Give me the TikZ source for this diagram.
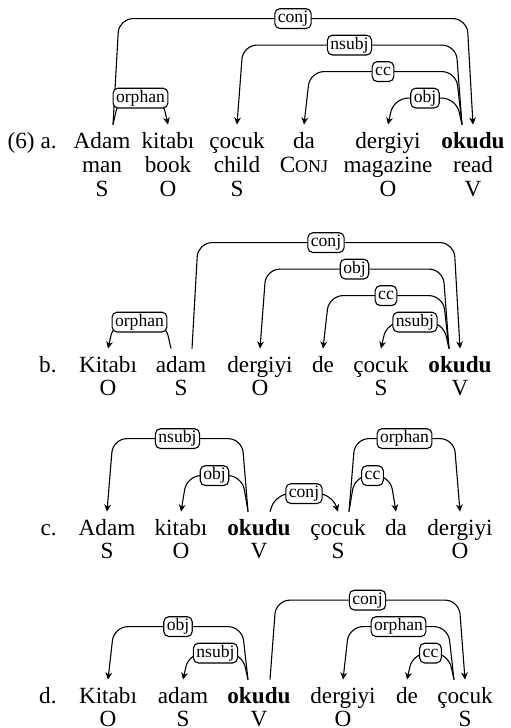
\documentclass[tikz,border=0pt]{standalone}
\usepackage{fontspec}
\setmainfont{Liberation Serif}
\usetikzlibrary{arrows.meta,calc}

\begin{document}
\begin{tikzpicture}[
        x=0.5pt, y=-0.5pt,
        word/.style={
            anchor=base,
            inner sep=0pt,
            text height=11.5pt,
            font=\fontsize{11.6}{14}\selectfont
        },
        lbl/.style={
            draw,
            fill=white,
            rounded corners=2.5pt,
            inner xsep=1.5pt,
            inner ysep=1pt,
            text height=6pt,
            text depth=1.9pt,
            font=\fontsize{8.8}{10}\selectfont
        },
        deparc/.style={
            line width=0.55pt,
            rounded corners=7pt,
            -{Stealth[length=3.6pt,width=3.4pt]},
            to path={let \p1=(\tikztostart), \p2=(\tikztotarget),
                \p3=($(\p1)!3pt!(\p2)$), \p4=($(\p2)!3pt!(\p1)$) in
                -- (\x3,\y1+#1) -- (\x4,\y1+#1) \tikztonodes -- (\p2)}
        }
    ]
        \useasboundingbox (0,0) rectangle (510,728);

        % (6a)
        \node[word,anchor=base east] (exA) at (57,148) {(6) a.};
        \foreach \n/\x/\t in {adamA/102/Adam, kitabiA/168/kitabı, cocukA/237/çocuk,
                daA/304/da, dergiyiA/388/dergiyi, okuduA/473/\textbf{okudu}}
            \node[word] (\n) at (\x,148) {\t};
        \foreach \n/\x/\t in {manA/102/man, bookA/168/book, childA/237/child,
                cnjA/304/C{\fontsize{9}{10}\selectfont ONJ}, magazineA/388/magazine, readA/473/read}
            \node[word] (\n) at (\x,172) {\t};
        \foreach \n/\x/\t in {roleA1/102/S, roleA2/168/O, roleA3/237/S, roleA5/388/O, roleA6/473/V}
            \node[word] (\n) at (\x,196) {\t};

        \draw[deparc=53pt] ([xshift=5.5pt]adamA.north) to node[lbl]{conj} (okuduA.north);
        \draw[deparc=13.25pt] ([xshift=5.5pt]adamA.north) to node[lbl]{orphan} (kitabiA.north);
        \draw[deparc=39.75pt] ([xshift=-5.5pt]okuduA.north) to node[lbl]{nsubj} (cocukA.north);
        \draw[deparc=26.5pt] ([xshift=-5.5pt]okuduA.north) to node[lbl]{cc} (daA.north);
        \draw[deparc=13.25pt] ([xshift=-5.5pt]okuduA.north) to node[lbl]{obj} (dergiyiA.north);

        % (6b)
        \node[word,anchor=base east] (exB) at (57,372) {b.};
        \foreach \n/\x/\t in {kitabiB/108/Kitabı, adamB/181/adam, dergiyiB/260/dergiyi,
                deB/323/de, cocukB/381/çocuk, okuduB/460/\textbf{okudu}}
            \node[word] (\n) at (\x,372) {\t};
        \foreach \n/\x/\t in {roleB1/108/O, roleB2/181/S, roleB3/260/O, roleB5/381/S, roleB6/460/V}
            \node[word] (\n) at (\x,395) {\t};

        \draw[deparc=13.25pt] ([xshift=-5pt]adamB.north) to node[lbl]{orphan} (kitabiB.north);
        \draw[deparc=53pt] ([xshift=5.5pt]adamB.north) to node[lbl]{conj} (okuduB.north);
        \draw[deparc=39.75pt] ([xshift=-5.5pt]okuduB.north) to node[lbl]{obj} (dergiyiB.north);
        \draw[deparc=26.5pt] ([xshift=-5.5pt]okuduB.north) to node[lbl]{cc} (deB.north);
        \draw[deparc=13.25pt] ([xshift=-5.5pt]okuduB.north) to node[lbl]{nsubj} (cocukB.north);

        % (6c)
        \node[word,anchor=base east] (exC) at (57,535) {c.};
        \foreach \n/\x/\t in {adamC/107/Adam, kitabiC/181/kitabı, okuduC/259/\textbf{okudu},
                cocukC/338/çocuk, daC/396/da, dergiyiC/460/dergiyi}
            \node[word] (\n) at (\x,535) {\t};
        \foreach \n/\x/\t in {roleC1/107/S, roleC2/181/O, roleC3/259/V, roleC4/338/S, roleC6/460/O}
            \node[word] (\n) at (\x,558) {\t};

        \draw[deparc=36.5pt] ([xshift=-5.5pt]okuduC.north) to node[lbl]{nsubj} (adamC.north);
        \draw[deparc=18pt] ([xshift=-5.5pt]okuduC.north) to node[lbl]{obj} (kitabiC.north);
        \draw[deparc=9pt] ([xshift=5.5pt]okuduC.north) to node[lbl]{conj} (cocukC.north);
        \draw[deparc=36.5pt] ([xshift=5.5pt]cocukC.north) to node[lbl]{orphan} (dergiyiC.north);
        \draw[deparc=18pt] ([xshift=5.5pt]cocukC.north) to node[lbl]{cc} (daC.north);

        % (6d)
        \node[word,anchor=base east] (exD) at (57,703) {d.};
        \foreach \n/\x/\t in {kitabiD/108/Kitabı, adamD/183/adam, okuduD/259/\textbf{okudu},
                dergiyiD/343/dergiyi, deD/407/de, cocukD/465/çocuk}
            \node[word] (\n) at (\x,703) {\t};
        \foreach \n/\x/\t in {roleD1/108/O, roleD2/183/S, roleD3/259/V, roleD4/343/O, roleD6/465/S}
            \node[word] (\n) at (\x,726) {\t};

        \draw[deparc=26.5pt] ([xshift=-5.5pt]okuduD.north) to node[lbl]{obj} (kitabiD.north);
        \draw[deparc=13.25pt] ([xshift=-5.5pt]okuduD.north) to node[lbl]{nsubj} (adamD.north);
        \draw[deparc=39.75pt] ([xshift=5.5pt]okuduD.north) to node[lbl]{conj} (cocukD.north);
        \draw[deparc=26.5pt] ([xshift=-5.5pt]cocukD.north) to node[lbl]{orphan} (dergiyiD.north);
        \draw[deparc=13.25pt] ([xshift=-5.5pt]cocukD.north) to node[lbl]{cc} (deD.north);
\end{tikzpicture}
\end{document}
